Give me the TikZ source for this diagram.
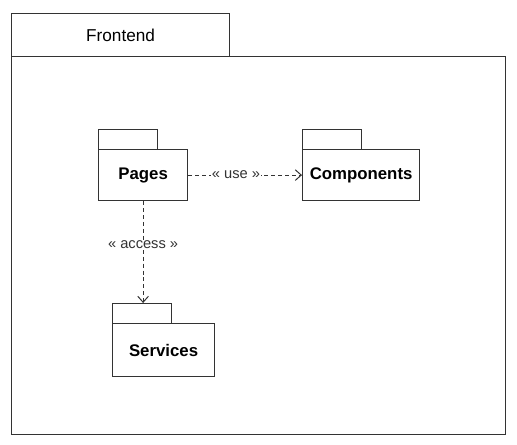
\documentclass[tikz,border=0pt]{standalone}
\usepackage{fontspec}
\setmainfont{Liberation Sans}
\usetikzlibrary{positioning}
\usetikzlibrary{arrows.meta}

\begin{document}
\begin{tikzpicture}[x=0.75pt, y=-0.75pt,
    line width=0.9pt,
    every node/.style={inner sep=0, font=\fontsize{12.9}{15}\selectfont},
    box/.style={draw=black!80, anchor=north west},
    pkgtab/.style={box, minimum width=44.25pt, minimum height=15pt},
    pkgbody/.style={box, minimum height=38.25pt, font=\bfseries\fontsize{12.6}{15}\selectfont},
    dep/.style={draw=black!80, line width=0.75pt, dash pattern=on 3pt off 2.2pt,
      -{Straight Barb[length=4.5pt, width=8pt, line width=0.75pt]}},
    deplabel/.style={fill=white, inner sep=0.6pt, text=black!80, font=\fontsize{11}{13}\selectfont}
  ]
  \useasboundingbox (0,0) rectangle (517,445);

  % outer package
  \node[box, minimum width=163.5pt, minimum height=32.25pt] (fetab) at (11,13) {Frontend};
  \node[box, minimum width=370.5pt, minimum height=283.5pt] (fe) at (11,56) {};

  % inner packages
  \node[pkgtab] (pagestab) at (98,129) {};
  \node[pkgbody, minimum width=66.75pt] (pages) at (98,149) {Pages};
  \node[pkgtab] (comptab) at (302,129) {};
  \node[pkgbody, minimum width=87.75pt] (comp) at (302,149) {Components};
  \node[pkgtab] (svctab) at (112,303) {};
  \node[pkgbody, minimum width=76.5pt, minimum height=39.75pt] (svc) at (112,323) {Services};

  % dependencies
  \draw[dep] (pages) -- node[deplabel, pos=0.42] {« use »} (comp);
  \draw[dep] (pages.south) -- node[deplabel, pos=0.43] {« access »} (pages.south |- svctab.north);
\end{tikzpicture}
\end{document}
